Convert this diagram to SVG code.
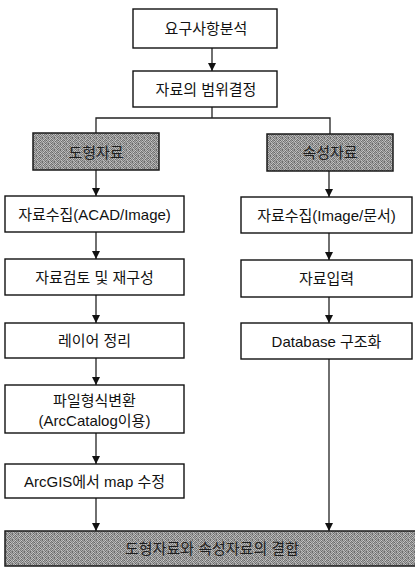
<svg xmlns="http://www.w3.org/2000/svg" width="415" height="568" viewBox="0 0 415 568">
  <defs>
    <style>
      .box{fill:#fff;stroke:#111;stroke-width:1.4}
      .shade{fill:url(#grain);stroke:#1a1a1a;stroke-width:1.5}
      .t{font-family:"Liberation Sans","Noto Sans CJK KR",sans-serif;font-size:15px;fill:#111;text-anchor:middle;dominant-baseline:central}
      .ts{fill:#1e1e1e}
      .ln{stroke:#222;stroke-width:1.3;fill:none}
      .arr{marker-end:url(#ah)}
    </style>
    <!-- screened grey tone for highlighted boxes -->
    <pattern id="grain" width="6" height="6" patternUnits="userSpaceOnUse">
      <rect x="0" y="0" width="1" height="1" fill="#6a6a6a"/>
      <rect x="1" y="0" width="1" height="1" fill="#b4b4b4"/>
      <rect x="2" y="0" width="1" height="1" fill="#868686"/>
      <rect x="3" y="0" width="1" height="1" fill="#c8c8c8"/>
      <rect x="4" y="0" width="1" height="1" fill="#787878"/>
      <rect x="5" y="0" width="1" height="1" fill="#a0a0a0"/>
      <rect x="0" y="1" width="1" height="1" fill="#a8a8a8"/>
      <rect x="1" y="1" width="1" height="1" fill="#7c7c7c"/>
      <rect x="2" y="1" width="1" height="1" fill="#c0c0c0"/>
      <rect x="3" y="1" width="1" height="1" fill="#6e6e6e"/>
      <rect x="4" y="1" width="1" height="1" fill="#b6b6b6"/>
      <rect x="5" y="1" width="1" height="1" fill="#8a8a8a"/>
      <rect x="0" y="2" width="1" height="1" fill="#828282"/>
      <rect x="1" y="2" width="1" height="1" fill="#cacaca"/>
      <rect x="2" y="2" width="1" height="1" fill="#747474"/>
      <rect x="3" y="2" width="1" height="1" fill="#9e9e9e"/>
      <rect x="4" y="2" width="1" height="1" fill="#666666"/>
      <rect x="5" y="2" width="1" height="1" fill="#bcbcbc"/>
      <rect x="0" y="3" width="1" height="1" fill="#b8b8b8"/>
      <rect x="1" y="3" width="1" height="1" fill="#6c6c6c"/>
      <rect x="2" y="3" width="1" height="1" fill="#a6a6a6"/>
      <rect x="3" y="3" width="1" height="1" fill="#848484"/>
      <rect x="4" y="3" width="1" height="1" fill="#c4c4c4"/>
      <rect x="5" y="3" width="1" height="1" fill="#7a7a7a"/>
      <rect x="0" y="4" width="1" height="1" fill="#929292"/>
      <rect x="1" y="4" width="1" height="1" fill="#c0c0c0"/>
      <rect x="2" y="4" width="1" height="1" fill="#7e7e7e"/>
      <rect x="3" y="4" width="1" height="1" fill="#b0b0b0"/>
      <rect x="4" y="4" width="1" height="1" fill="#727272"/>
      <rect x="5" y="4" width="1" height="1" fill="#a4a4a4"/>
      <rect x="0" y="5" width="1" height="1" fill="#707070"/>
      <rect x="1" y="5" width="1" height="1" fill="#989898"/>
      <rect x="2" y="5" width="1" height="1" fill="#bababa"/>
      <rect x="3" y="5" width="1" height="1" fill="#686868"/>
      <rect x="4" y="5" width="1" height="1" fill="#aaaaaa"/>
      <rect x="5" y="5" width="1" height="1" fill="#8e8e8e"/>
    </pattern>
    <marker id="ah" viewBox="0 0 10 10" refX="10" refY="5" markerWidth="9" markerHeight="8" markerUnits="userSpaceOnUse" orient="auto">
      <path d="M0,0 L10,5 L0,10 z" fill="#111"/>
    </marker>
  </defs>

  <rect width="415" height="568" fill="#fff"/>

  <!-- connectors -->
  <g id="connectors">
    <line class="ln arr" x1="212" y1="48" x2="212" y2="71"/>
    <polyline class="ln" points="212,107 212,118"/>
    <polyline class="ln" points="96,133 96,118 330,118 330,134"/>
    <!-- geometry branch -->
    <line class="ln arr" x1="96" y1="170" x2="96" y2="196"/>
    <line class="ln arr" x1="96" y1="232" x2="96" y2="259"/>
    <line class="ln arr" x1="96" y1="295" x2="96" y2="323"/>
    <line class="ln arr" x1="96" y1="358" x2="96" y2="385"/>
    <line class="ln arr" x1="96" y1="433" x2="96" y2="464"/>
    <line class="ln arr" x1="96" y1="498" x2="96" y2="531"/>
    <!-- attribute branch -->
    <line class="ln arr" x1="329" y1="171" x2="329" y2="197"/>
    <line class="ln arr" x1="329" y1="233" x2="329" y2="260"/>
    <line class="ln arr" x1="329" y1="297" x2="329" y2="323"/>
    <line class="ln arr" x1="329" y1="359" x2="329" y2="531"/>
  </g>

  <g id="n-requirements">
    <rect class="box" x="133" y="9" width="144" height="39"/>
    <text class="t" x="206" y="28.5">요구사항분석</text>
  </g>
  <g id="n-scope">
    <rect class="box" x="133" y="71" width="144" height="36"/>
    <text class="t" x="206" y="89">자료의 범위결정</text>
  </g>

  <g id="n-geometry">
    <rect class="shade" x="33" y="133" width="126" height="37"/>
    <text class="t ts" x="96" y="152">도형자료</text>
  </g>
  <g id="n-attribute">
    <rect class="shade" x="267" y="134" width="126" height="37"/>
    <text class="t ts" x="330" y="152.5">속성자료</text>
  </g>

  <g id="n-collect-geo">
    <rect class="box" x="5" y="196" width="179" height="36"/>
    <text class="t" x="94.5" y="214">자료수집(ACAD/Image)</text>
  </g>
  <g id="n-review">
    <rect class="box" x="5" y="259" width="179" height="36"/>
    <text class="t" x="94.5" y="277">자료검토 및 재구성</text>
  </g>
  <g id="n-layers">
    <rect class="box" x="5" y="323" width="179" height="35"/>
    <text class="t" x="94.5" y="340.5">레이어 정리</text>
  </g>
  <g id="n-convert">
    <rect class="box" x="5" y="385" width="179" height="48"/>
    <text class="t" x="94.5" y="400">파일형식변환</text>
    <text class="t" x="94.5" y="420">(ArcCatalog이용)</text>
  </g>
  <g id="n-edit-map">
    <rect class="box" x="5" y="464" width="179" height="34"/>
    <text class="t" x="94.5" y="481">ArcGIS에서 map 수정</text>
  </g>

  <g id="n-collect-attr">
    <rect class="box" x="241" y="197" width="171" height="36"/>
    <text class="t" x="326.5" y="215">자료수집(Image/문서)</text>
  </g>
  <g id="n-input">
    <rect class="box" x="241" y="260" width="171" height="37"/>
    <text class="t" x="326.5" y="278.5">자료입력</text>
  </g>
  <g id="n-database">
    <rect class="box" x="241" y="323" width="171" height="36"/>
    <text class="t" x="326.5" y="341">Database 구조화</text>
  </g>

  <g id="n-join">
    <rect class="shade" x="5" y="531" width="412" height="35"/>
    <text class="t ts" x="212" y="548.5">도형자료와 속성자료의 결합</text>
  </g>
</svg>
